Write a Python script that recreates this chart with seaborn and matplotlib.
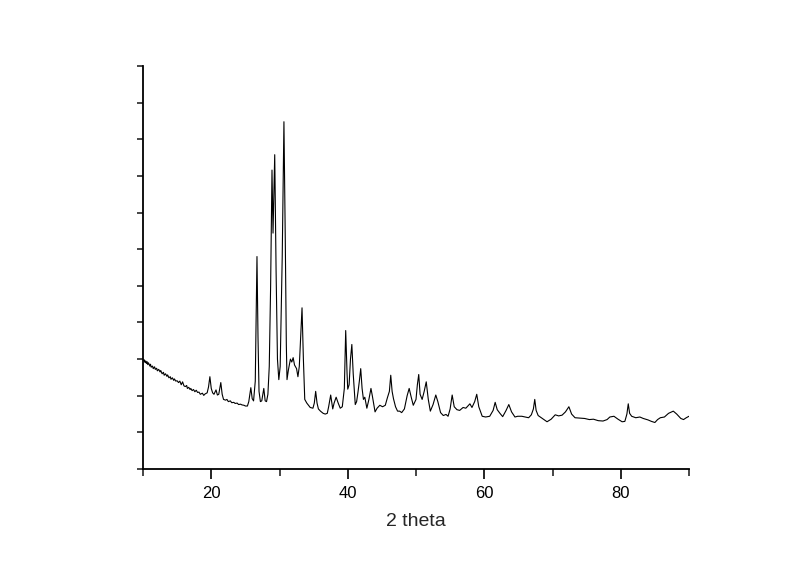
import matplotlib
matplotlib.use("Agg")
import matplotlib.pyplot as plt
import seaborn as sns
import pandas as pd
from matplotlib.ticker import MultipleLocator, NullFormatter, FixedLocator

two_theta = [
    10.0, 10.1, 10.2, 10.3, 10.4, 10.5, 10.6, 10.7, 10.8, 11.0, 11.1, 11.2, 11.4, 11.5, 11.7,
    11.8, 12.0, 12.1, 12.3, 12.5, 12.6, 12.8, 13.0, 13.1, 13.3, 13.5, 13.6, 13.8, 14.0, 14.1,
    14.3, 14.5, 14.6, 14.8, 15.0, 15.2, 15.4, 15.6, 15.8, 16.0, 16.2, 16.4, 16.5, 16.7, 16.9,
    17.0, 17.2, 17.4, 17.6, 17.8, 18.0, 18.2, 18.4, 18.7, 18.9, 19.1, 19.4, 19.6, 19.8, 20.0,
    20.2, 20.4, 20.7, 20.9, 21.1, 21.4, 21.6, 21.8, 22.1, 22.3, 22.5, 22.8, 23.0, 23.3, 23.5,
    23.8, 24.0, 24.3, 24.5, 24.8, 25.0, 25.3, 25.5, 25.8, 26.0, 26.2,
    26.45, 26.6, 26.7, 26.85, 27.0, 27.2, 27.4, 27.7, 27.9, 28.1, 28.3, 28.5, 28.7, 28.9, 29.05,
    29.3, 29.5, 29.7, 29.9, 30.1, 30.4, 30.65, 30.85, 31.0, 31.1, 31.3, 31.6, 31.8, 32.0, 32.2,
    32.5, 32.7, 32.9, 33.1, 33.3, 33.5, 33.7, 34.0, 34.5, 34.9, 35.1, 35.3, 35.5, 35.7, 36.0,
    36.4, 36.7, 37.0, 37.2, 37.5, 37.8, 38.0, 38.3, 38.6, 38.9, 39.2, 39.5, 39.7, 39.9, 40.0,
    40.2, 40.4, 40.6, 40.8, 41.1, 41.3, 41.5, 41.7, 41.9, 42.1, 42.3, 42.5, 42.8, 43.1, 43.4,
    43.6, 44.0, 44.3, 44.7, 45.1, 45.5, 45.8, 46.1, 46.3, 46.5, 46.7, 47.0, 47.3, 47.6, 47.9,
    48.3, 48.7, 49.0, 49.3, 49.6, 50.0, 50.2, 50.4, 50.6, 50.9, 51.2, 51.5, 51.8, 52.1, 52.5,
    52.9, 53.2, 53.6, 54.0, 54.4, 54.7, 55.0, 55.3, 55.6, 56.0, 56.4, 56.9, 57.3, 57.6, 57.9,
    58.2, 58.6, 58.9, 59.2, 59.7, 60.2, 60.8, 61.3, 61.6, 61.9, 62.3, 62.7, 63.2, 63.6, 64.0,
    64.5, 64.9, 65.5, 66.0, 66.5, 66.9, 67.2, 67.4, 67.6, 67.9, 68.5, 69.2, 69.8, 70.4, 70.9,
    71.4, 71.9, 72.4, 72.8, 73.3, 74.0, 74.7, 75.4, 76.0, 76.7, 77.4, 78.0, 78.4, 79.0, 79.6,
    80.2, 80.6, 80.9, 81.1, 81.3, 81.6, 82.2, 82.8, 83.3, 84.0, 84.5, 85.0, 85.4, 85.8, 86.4,
    87.0, 87.7, 88.2, 88.8, 89.2, 89.6, 90.0,
]

intensity = [
    1000, 975, 990, 955, 975, 940, 965, 925, 950, 905, 930, 890, 905, 870, 895,
    860, 875, 840, 860, 825, 845, 800, 820, 780, 800, 765, 785, 745, 760, 725,
    745, 710, 730, 700, 705, 680, 700, 650, 690, 635, 625, 640, 600, 615, 585,
    600, 570, 585, 555, 575, 545, 550, 520, 535, 505, 525, 540, 620, 760, 600,
    540, 520, 580, 510, 520, 680,
    520, 450, 440, 450, 420, 430, 405, 410, 395, 400, 380, 385, 375, 370, 360,
    360, 420, 610, 460, 430,
    700, 1700, 2400, 1300, 560, 420, 430, 600, 430, 420, 520, 900, 2000, 3580, 2720,
    3790, 2200, 1000, 720, 900, 2400, 4240, 2600, 1200, 720, 850, 1000, 960, 1020, 920,
    870, 760, 900, 1300, 1700, 1000, 450, 400, 340, 330, 400, 560, 400, 320, 290,
    260, 250, 260, 350, 510, 320, 400, 480, 400, 330, 350, 600, 1390, 800, 590,
    650, 1000, 1200, 800, 380, 420, 550, 700, 870, 600, 450, 480, 330, 450, 600,
    500, 280, 330, 370, 350, 370, 470, 560, 780, 560, 460, 350, 290, 290, 270,
    320, 500, 600, 480, 370, 450, 650, 790, 520, 450, 560, 690, 450, 290, 380,
    510, 420, 270, 230, 245, 220, 320, 510, 350, 310, 300, 340, 330, 360, 390,
    340, 420, 520, 350, 220, 210, 220, 300, 410, 310, 260, 215, 300, 380, 280,
    210, 220, 220, 210, 200, 240, 320, 450, 300, 230, 190, 145, 180, 240, 225,
    235, 280, 350, 250, 200, 195, 190, 175, 180, 160, 155, 175, 210, 220, 180,
    145, 150, 250, 390, 260, 220, 200, 210, 190, 170, 150, 135, 175, 200, 210,
    260, 290, 250, 190, 175, 200, 220,
]

x_ticks = [20, 40, 60, 80]
x_minor_ticks = [10, 30, 50, 70, 90]
x_label = "2 theta"

df = pd.DataFrame({"two_theta": two_theta, "intensity": intensity})

sns.set_style("ticks")
plt.rcParams['font.family'] = ['Liberation Sans', 'DejaVu Sans']

fig = plt.figure(figsize=(8, 5.64), dpi=100)
ax = fig.add_axes([0.17875, 0.1684, 0.6825, 0.7145])

sns.lineplot(data=df, x="two_theta", y="intensity", ax=ax, color="black",
             linewidth=0.8, estimator=None, sort=False)

ax.set_xlim(10, 90)
ax.set_ylim(-500, 5000)
ax.set_xticks(x_ticks)
ax.xaxis.set_minor_locator(FixedLocator(x_minor_ticks))
ax.yaxis.set_major_locator(MultipleLocator(1000))
ax.yaxis.set_minor_locator(MultipleLocator(500))
ax.yaxis.set_major_formatter(NullFormatter())

for s in ["top", "right"]:
    ax.spines[s].set_visible(False)
for s in ["left", "bottom"]:
    ax.spines[s].set_linewidth(1.3)
    ax.spines[s].set_color("black")

ax.tick_params(axis="x", which="major", length=7, width=1.2, labelsize=12, pad=5, colors="black")
ax.tick_params(axis="x", which="minor", length=5, width=1.2)
ax.tick_params(axis="y", which="both", length=4, width=1.2)

ax.set_xlabel(x_label, fontsize=14, labelpad=9)
ax.set_ylabel("")

fig.savefig("out.png", dpi=100, facecolor="white")
